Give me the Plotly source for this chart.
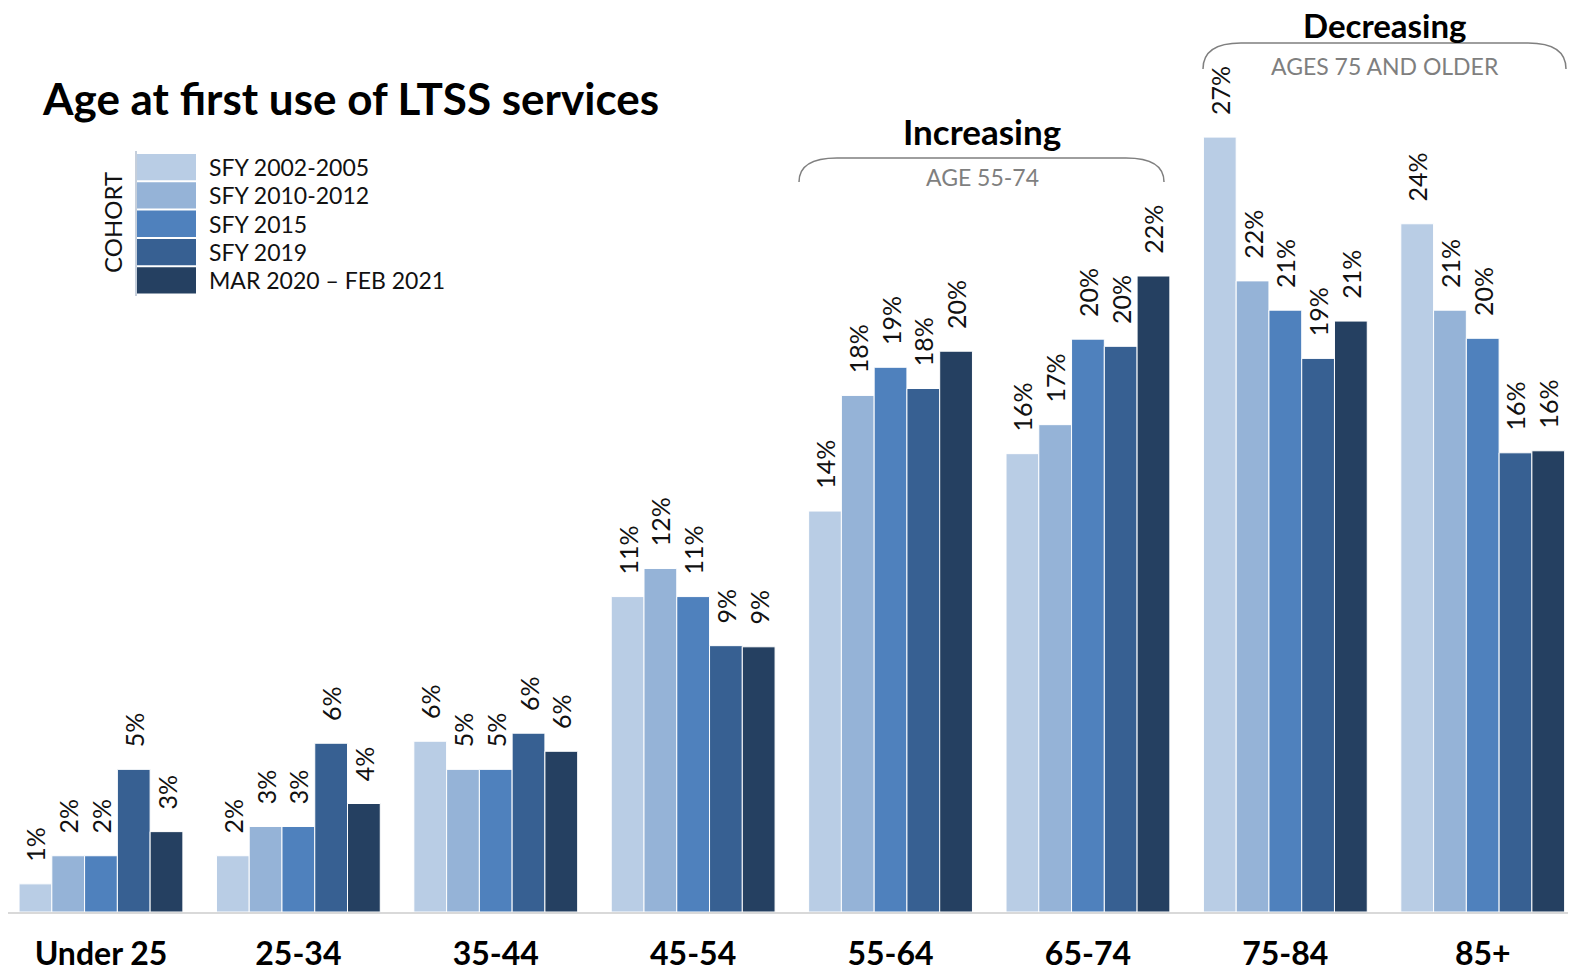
import plotly.graph_objects as go

# age groups and cohorts
age_groups = ["Under 25", "25-34", "35-44", "45-54", "55-64", "65-74", "75-84", "85+"]
cohorts = ["SFY 2002-2005", "SFY 2010-2012", "SFY 2015", "SFY 2019", "MAR 2020 \u2013 FEB 2021"]
colors = ["#B9CDE5", "#95B3D7", "#4F81BD", "#376092", "#254061"]

# share of first-time LTSS users (%) by cohort
sfy_2002_2005 = [0.98, 1.96, 5.95, 10.99, 13.97, 15.97, 27.0, 23.98]
sfy_2010_2012 = [1.96, 2.98, 4.97, 11.97, 18.0, 16.98, 21.99, 20.97]
sfy_2015 = [1.96, 2.98, 4.97, 10.99, 18.98, 19.96, 20.97, 19.99]
sfy_2019 = [4.97, 5.88, 6.23, 9.28, 18.24, 19.71, 19.29, 16.0]
mar2020_feb2021 = [2.8, 3.78, 5.6, 9.24, 19.54, 22.16, 20.59, 16.07]
series = [sfy_2002_2005, sfy_2010_2012, sfy_2015, sfy_2019, mar2020_feb2021]

FONT = "Lato"
OFF = 8  # page body margin; positions below are in window pixels
W, H = 1560, 963
PLOT_H = 904  # plot area: top of figure down to the baseline


def px(x):
    return (x - OFF) / W


def py(y):
    return 1 - (y - OFF) / PLOT_H


fig = go.Figure()
for name, vals, col in zip(cohorts, series, colors):
    fig.add_trace(
        go.Bar(
            x=age_groups,
            y=vals,
            name=name,
            marker=dict(color=col, line=dict(color="white", width=1)),
            text=["\u00a0\u00a0\u00a0%d%%" % round(v) for v in vals],
            textposition="outside",
            textangle=-90,
            constraintext="none",
            textfont=dict(family=FONT, size=25, color="#111111"),
            cliponaxis=False,
            showlegend=False,
            hoverinfo="skip",
        )
    )

shapes = []
annotations = []

# legend drawn by hand: tall stacked swatches
sw_top, sw_h = 153, 28.3
for i, (name, col) in enumerate(zip(cohorts, colors)):
    y0 = sw_top + i * sw_h
    shapes.append(dict(type="rect", xref="paper", yref="paper",
                       x0=px(137), x1=px(196), y0=py(y0 + 1), y1=py(y0 + sw_h - 1),
                       fillcolor=col, line=dict(width=0)))
    annotations.append(dict(text=name, xref="paper", yref="paper",
                            x=px(207), y=py(y0 + sw_h / 2), xanchor="left", yanchor="middle",
                            showarrow=False, font=dict(family=FONT, size=23, color="#111111")))
shapes.append(dict(type="line", xref="paper", yref="paper",
                   x0=px(136), x1=px(136), y0=py(151), y1=py(296),
                   line=dict(color="#8C9FB8", width=1)))
annotations.append(dict(text="COHORT", xref="paper", yref="paper", x=px(112), y=py(223),
                        xanchor="center", yanchor="middle", textangle=-90, showarrow=False,
                        font=dict(family=FONT, size=24, color="#111111")))

# title
annotations.append(dict(text="<b>Age at first use of LTSS services</b>", xref="paper", yref="paper",
                        x=px(40), y=py(98), xanchor="left", yanchor="middle", showarrow=False,
                        font=dict(family=FONT, size=44, color="#000000")))


def bracket(x1, x2, ytop, ybot, r=38):
    return dict(type="path", xref="paper", yref="paper",
                path=(f"M {px(x1)},{py(ybot)} Q {px(x1)},{py(ytop)} {px(x1 + r)},{py(ytop)} "
                      f"L {px(x2 - r)},{py(ytop)} Q {px(x2)},{py(ytop)} {px(x2)},{py(ybot)}"),
                line=dict(color="#7F7F7F", width=1.5))


shapes.append(bracket(799, 1164, 158, 182))
shapes.append(bracket(1203, 1566, 43, 69))

for txt, x, y, size, col in [
    ("<b>Increasing</b>", 982, 131, 35, "#000000"),
    ("AGE 55-74", 982, 177, 23, "#7F7F7F"),
    ("<b>Decreasing</b>", 1385, 25, 33, "#000000"),
    ("AGES 75 AND OLDER", 1385, 66, 23, "#7F7F7F"),
]:
    annotations.append(dict(text=txt, xref="paper", yref="paper", x=px(x), y=py(y),
                            xanchor="center", yanchor="middle", showarrow=False,
                            font=dict(family=FONT, size=size, color=col)))

fig.update_layout(
    width=W,
    height=H,
    margin=dict(l=0, r=0, t=0, b=H - PLOT_H),
    paper_bgcolor="white",
    plot_bgcolor="white",
    barmode="group",
    bargap=0.17,
    bargroupgap=0.0,
    shapes=shapes,
    annotations=annotations,
    font=dict(family=FONT),
)
fig.update_xaxes(
    range=[-0.471, 7.432],
    automargin=False,
    showline=True,
    linecolor="#D9D9D9",
    linewidth=2,
    showgrid=False,
    ticks="",
    ticklabelstandoff=13,
    tickfont=dict(family=FONT, size=32, color="#000000", weight="bold"),
)
fig.update_yaxes(range=[0, PLOT_H / 28.7], visible=False, showgrid=False, automargin=False)

fig.write_html("out.html")
